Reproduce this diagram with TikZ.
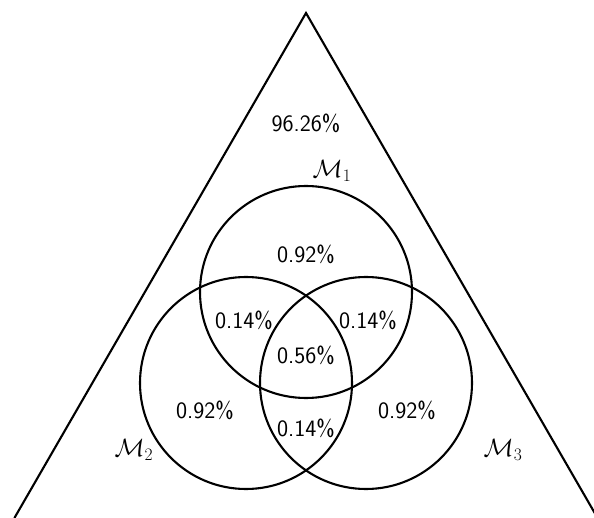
\RequirePackage{fix-cm}
\documentclass[tikz,border=0pt]{standalone}
\begin{document}
\begin{tikzpicture}[x=1pt,y=-1pt,
  lw/.style={line width=2.1pt},
  venn/.style={circle,draw,lw,inner sep=0pt,minimum size=212pt},
  pct/.style={font=\fontsize{23.5}{28}\selectfont\sffamily,inner sep=0pt},
  lab/.style={font=\fontsize{25}{30}\selectfont,inner sep=0pt}]
\useasboundingbox (0,0) rectangle (594,518);
\begin{scope}
\clip (0,0) rectangle (594,518);
\coordinate (apex) at (306,13);
\coordinate (bl) at (14.4,518);
\coordinate (br) at (597.6,518);
\draw[lw,line join=miter] (bl) -- (apex) -- (br);
\end{scope}
\node[venn] (m1) at (306,292) {};
\node[venn] (m2) at (246,383) {};
\node[venn] (m3) at (366,383) {};
\node[pct] (outside) at (306,123) {96.26\%};
\node[pct] (only1) at (306,254) {0.92\%};
\node[pct] (i12) at (244,320) {0.14\%};
\node[pct] (i13) at (368,320) {0.14\%};
\node[pct] (i123) at (306,355) {0.56\%};
\node[pct] (only2) at (205,410) {0.92\%};
\node[pct] (only3) at (407,410) {0.92\%};
\node[pct] (i23) at (306,428) {0.14\%};
\node[lab] (l1) at (332,171) {$\mathcal{M}_1$};
\node[lab] (l2) at (134,450) {$\mathcal{M}_2$};
\node[lab] (l3) at (503,450) {$\mathcal{M}_3$};
\end{tikzpicture}
\end{document}
